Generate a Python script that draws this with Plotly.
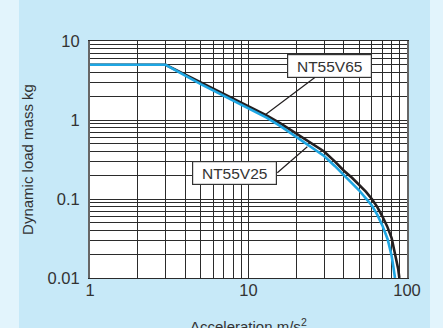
import math
import plotly.graph_objects as go

# Data
acc_v65 = [1, 3, 5, 7, 10, 13, 16, 20, 25, 30, 35, 40, 45, 50, 55, 60, 65, 70, 75, 80, 85, 88, 89.5]
mass_v65 = [5, 5, 3.0, 2.14, 1.5, 1.14, 0.9, 0.68, 0.515, 0.40, 0.30, 0.228, 0.186, 0.152, 0.124,
            0.100, 0.079, 0.060, 0.045, 0.032, 0.019, 0.013, 0.01]

acc_v25 = [1, 3, 5, 7, 10, 13, 16, 20, 25, 30, 35, 40, 45, 50, 55, 60, 65, 70, 75.5, 80, 82, 84]
mass_v25 = [5, 5, 2.85, 2.02, 1.42, 1.07, 0.83, 0.61, 0.45, 0.35, 0.262, 0.2, 0.16, 0.128, 0.102,
            0.083, 0.063, 0.046, 0.031, 0.019, 0.014, 0.01]

x_ticks = [1, 10, 100]
x_ticklabels = ["1", "10", "100"]
y_ticks = [0.01, 0.1, 1, 10]
y_ticklabels = ["0.01", "0.1", "1", "10"]

x_title = "Acceleration m/s<sup>2</sup>"
y_title = "Dynamic load mass kg"

label_v65 = "NT55V65"
label_v25 = "NT55V25"
label_v65_at = (12.7, 1.156)
label_v25_at = (23.5, 0.459)

PANEL = "#c7e9f8"
OUTER = "#e2f4fc"
BLACK = "#231f20"
BLUE = "#1ea6e3"
TXT = "#333333"
GRID = "#2b2b2b"

fig = go.Figure()
fig.add_trace(go.Scatter(x=acc_v65, y=mass_v65, mode="lines",
                         line=dict(color=BLACK, width=2.6),
                         hoverinfo="skip", showlegend=False))
fig.add_trace(go.Scatter(x=acc_v25, y=mass_v25, mode="lines",
                         line=dict(color=BLUE, width=2.6),
                         hoverinfo="skip", showlegend=False))

font_family = "Liberation Sans, Arial, sans-serif"

fig.update_xaxes(type="log", range=[0, 2], tickvals=x_ticks, ticktext=x_ticklabels,
                 showgrid=True, gridcolor=GRID, gridwidth=1,
                 minor=dict(dtick="D1", showgrid=True, gridcolor=GRID, gridwidth=1, ticklen=0),
                 showline=True, mirror=True, linecolor=GRID, linewidth=1,
                 ticks="", zeroline=False, ticklabelstandoff=-3,
                 tickfont=dict(family=font_family, size=16.5, color=TXT))
fig.update_yaxes(type="log", range=[-2, 1], tickvals=y_ticks, ticktext=y_ticklabels,
                 showgrid=True, gridcolor=GRID, gridwidth=1,
                 minor=dict(dtick="D1", showgrid=True, gridcolor=GRID, gridwidth=1, ticklen=0),
                 showline=True, mirror=True, linecolor="#666666", linewidth=2,
                 ticks="", zeroline=False, ticklabelstandoff=5,
                 tickfont=dict(family=font_family, size=16.5, color=TXT),
                 title=dict(text=y_title, standoff=10,
                            font=dict(family=font_family, size=15, color=TXT)))

# x-axis title, partly below the bottom edge as in the reference
fig.add_annotation(xref="paper", yref="paper", x=0.5, y=-0.15, xanchor="center", yanchor="top",
                   text=x_title, showarrow=False,
                   font=dict(family=font_family, size=15, color=TXT))

fig.add_annotation(x=math.log10(label_v65_at[0]), y=math.log10(label_v65_at[1]),
                   xref="x", yref="y", ax=65, ay=-49,
                   text=label_v65, showarrow=True, arrowhead=0, arrowwidth=1.2,
                   arrowcolor=BLACK, bgcolor="white", bordercolor=TXT, borderwidth=1.2,
                   borderpad=0, width=83, height=22,
                   font=dict(family=font_family, size=15.5, color=TXT))
fig.add_annotation(x=math.log10(label_v25_at[0]), y=math.log10(label_v25_at[1]),
                   xref="x", yref="y", ax=-30, ay=26, xanchor="right", yanchor="middle",
                   text=label_v25, showarrow=True, arrowhead=0, arrowwidth=1.2,
                   arrowcolor=BLACK, bgcolor="white", bordercolor=TXT, borderwidth=1.2,
                   borderpad=0, width=83, height=22,
                   font=dict(family=font_family, size=15.5, color=TXT))

# outer light strips
W, L, R = 443, 90, 36
pw = W - L - R
fig.add_shape(type="rect", xref="paper", yref="paper",
              x0=(0 - L) / pw, x1=(19 - L) / pw, y0=-1, y1=2,
              fillcolor=OUTER, line=dict(width=0), layer="below")
fig.add_shape(type="rect", xref="paper", yref="paper",
              x0=(430 - L) / pw, x1=(W - L) / pw, y0=-1, y1=2,
              fillcolor=OUTER, line=dict(width=0), layer="below")

fig.update_layout(width=443, height=328,
                  margin=dict(l=L, r=R, t=41, b=50, autoexpand=False),
                  paper_bgcolor=PANEL, plot_bgcolor="white",
                  showlegend=False)

fig.write_html("out.html", config={"displayModeBar": False},
               post_script="document.body.style.margin='0';document.body.style.overflow='hidden';")
